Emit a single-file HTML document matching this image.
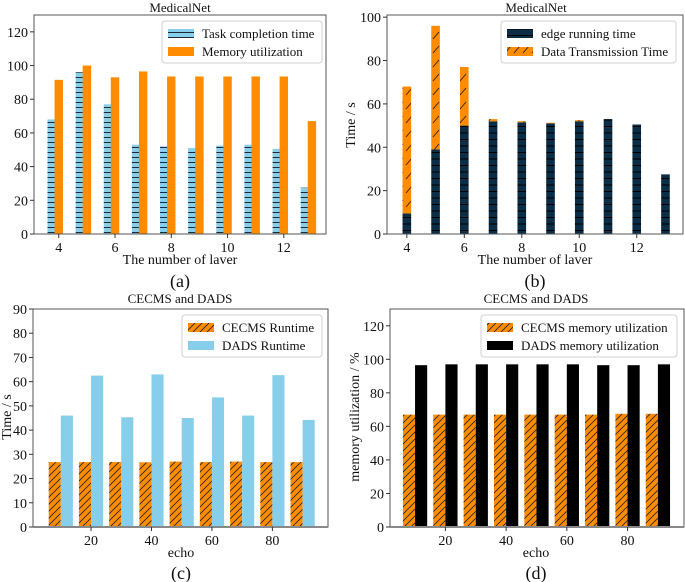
<!DOCTYPE html>
<html><head><meta charset="utf-8"><style>
body{margin:0;background:#fff}
svg{display:block;font-family:"Liberation Serif",serif}
</style></head><body>
<svg id="fig" width="685" height="582" viewBox="0 0 685 582" xmlns="http://www.w3.org/2000/svg">
<defs>
<pattern id="hBlue" patternUnits="userSpaceOnUse" width="8" height="5"><rect width="8" height="5" fill="#87ceeb"/><line x1="0" y1="2.5" x2="8" y2="2.5" stroke="#1a2a3a" stroke-width="1"/></pattern>
<pattern id="hDark" patternUnits="userSpaceOnUse" width="8" height="6.5"><rect width="8" height="6.5" fill="#0b2d45"/><line x1="0" y1="3" x2="8" y2="3" stroke="#000" stroke-width="1"/></pattern>
<pattern id="dOrSparse" patternUnits="userSpaceOnUse" width="9" height="14"><rect width="9" height="14" fill="#ff8c00"/><line x1="1" y1="11" x2="7" y2="4" stroke="#222" stroke-width="0.9"/></pattern>
<pattern id="dOr" patternUnits="userSpaceOnUse" width="7" height="7"><rect width="7" height="7" fill="#ff8c00"/><path d="M-1,8 L8,-1 M-1,1 L1,-1 M6,8 L8,6" stroke="#222" stroke-width="0.8"/></pattern>
</defs>
<g id="root"></g>
</svg>
<script>
// Panel (a)
const layersA = [4,5,6,7,8,9,10,11,12,13];
const taskTimeA = [68,96,77,53,52,51,52.5,53,50.5,27.5];
const memUtilA = [91.5,100,93,96.5,93.5,93.5,93.5,93.5,93.5,67];
const ticksAX = [4,6,8,10,12];
const ticksAY = [0,20,40,60,80,100,120];
// Panel (b)
const layersB = [4,5,6,7,8,9,10,11,12,13];
const edgeTimeB = [9.5,39,50,52,51.5,51,52,53,50.5,27.5];
const transTimeB = [58.5,57,27,1,0.5,0.3,0.5,0,0,0];
const ticksBX = [4,6,8,10,12];
const ticksBY = [0,20,40,60,80,100];
// Panel (c)
const echoC = [10,20,30,40,50,60,70,80,90];
const cecmsRunC = [26.8,26.8,26.8,26.7,27,26.8,27,26.8,26.8];
const dadsRunC = [46,62.5,45.3,63,45,53.5,46,62.7,44.2];
const ticksCX = [20,40,60,80];
const ticksCY = [0,10,20,30,40,50,60,70,80,90];
// Panel (d)
const echoD = [10,20,30,40,50,60,70,80,90];
const cecmsMemD = [67,67,67,67,67,67,67,67.5,67.5];
const dadsMemD = [96.5,97,97,97,97,97,96.5,96.5,97];
const ticksDX = [20,40,60,80];
const ticksDY = [0,20,40,60,80,100,120];

const NS="http://www.w3.org/2000/svg";
const root=document.getElementById('root');
function mk(tag,attrs,parent){const e=document.createElementNS(NS,tag);for(const k in attrs)e.setAttribute(k,attrs[k]);(parent||root).appendChild(e);return e;}
function txt(s,x,y,size,anchor,parent,rot){const t=mk('text',{x:x,y:y,'font-size':size,'text-anchor':anchor||'middle',fill:'#111'},parent);if(rot)t.setAttribute('transform','rotate(-90 '+x+' '+y+')');t.textContent=s;return t;}

function panel(name,box,xlim,ylim){
  const g=mk('g',{});
  
  
  const sx=v=>box.l+(v-xlim[0])/(xlim[1]-xlim[0])*(box.r-box.l);
  const sy=v=>box.b-(v-ylim[0])/(ylim[1]-ylim[0])*(box.b-box.t);
  return {g,sx,sy,box};
}
function axes(p,xt,yt,name,thick){
  const {g,sx,sy,box}=p;
  const fr=mk('rect',{x:box.l,y:box.t,width:box.r-box.l,height:box.b-box.t,fill:'none',stroke:'#555','stroke-width':1},g);
  
  
  if(thick)mk('line',{x1:box.l,y1:box.b,x2:box.r,y2:box.b,stroke:'#888','stroke-width':2},g);
  xt.forEach(v=>{const x=sx(v);mk('line',{x1:x,y1:box.b,x2:x,y2:box.b+4,stroke:'#333'},g);
    const t=txt(String(v),x,box.b+18,14,'middle',g);
    
    });
  yt.forEach(v=>{const y=sy(v);mk('line',{x1:box.l-4,y1:y,x2:box.l,y2:y,stroke:'#333'},g);
    const t=txt(String(v),box.l-6,y+5,14,'end',g);
    
    });
}
function bar(p,x0,x1,v0,v1,fill,nm){
  const r=mk('rect',{x:p.sx(x0),y:p.sy(v1),width:p.sx(x1)-p.sx(x0),height:Math.max(0,p.sy(v0)-p.sy(v1)),fill:fill},p.g);
  
  
  return r;
}
function legend(g,x,y,w,items,name){
  const lg=mk('g',{},g);
  
  
  mk('rect',{x:x,y:y,width:w,height:42,rx:3,fill:'#fff',stroke:'#ccc','stroke-width':1,opacity:0.9},lg);
  items.forEach((it,i)=>{
    const yy=y+6+i*18;
    mk('rect',{x:x+6,y:yy+2,width:26,height:9,fill:it[1]},lg);
    const t=txt(it[0],x+40,yy+11,13,'start',lg);
    
    
  });
}

// ---- (a)
{
 const p=panel('panel-a',{l:34,r:326,t:15,b:234},[3.12,13.5],[0,130]);
 layersA.forEach((x,i)=>{
   bar(p,x-0.4,x-0.1,0,taskTimeA[i],'url(#hBlue)','bar-task-time');
   bar(p,x-0.15,x+0.15,0,memUtilA[i],'#ff8c00','bar-memory');
 });
 axes(p,ticksAX,ticksAY,'a');
 legend(p.g,162,21,160,[['Task completion time','url(#hBlue)'],['Memory utilization','#ff8c00']],'legend-a');
 let t=txt('MedicalNet',180,12,13,'middle',p.g);
 t=txt('The number of laver',180,264,14,'middle',p.g);
 t=txt('(a)',180,287,18,'middle',p.g);
}
// ---- (b)
{
 const p=panel('panel-b',{l:387,r:683,t:15,b:234},[3.31,13.61],[0,101]);
 layersB.forEach((x,i)=>{
   bar(p,x-0.15,x+0.15,0,edgeTimeB[i],'url(#hDark)','bar-edge-time');
   if(transTimeB[i]>0)bar(p,x-0.15,x+0.15,edgeTimeB[i],edgeTimeB[i]+transTimeB[i],'url(#dOrSparse)','bar-transmission-time');
 });
 axes(p,ticksBX,ticksBY,'b');
 legend(p.g,501,21,175,[['edge running time','url(#hDark)'],['Data Transmission Time','url(#dOrSparse)']],'legend-b');
 let t=txt('MedicalNet',536,12,13,'middle',p.g);
 t=txt('Time / s',355,125,14,'middle',p.g,true);
 t=txt('The number of laver',535,264,14,'middle',p.g);
 t=txt('(b)',535,287,18,'middle',p.g);
}
// ---- (c)
{
 const p=panel('panel-c',{l:33,r:328,t:309,b:527},[0.8,98.4],[0,90]);
 echoC.forEach((x,i)=>{
   bar(p,x-4,x,0,cecmsRunC[i],'url(#dOr)','bar-cecms-runtime');
   bar(p,x,x+4,0,dadsRunC[i],'#87ceeb','bar-dads-runtime');
 });
 axes(p,ticksCX,ticksCY,'c',true);
 legend(p.g,182,315,140,[['CECMS Runtime','url(#dOr)'],['DADS Runtime','#87ceeb']],'legend-c');
 let t=txt('CECMS and DADS',180,303,13,'middle',p.g);
 t=txt('Time / s',11,417,14,'middle',p.g,true);
 t=txt('echo',181,557,14,'middle',p.g);
 t=txt('(c)',181,579,18,'middle',p.g);
}
// ---- (d)
{
 const p=panel('panel-d',{l:390,r:684,t:309,b:527},[1.75,98.6],[0,130]);
 echoD.forEach((x,i)=>{
   bar(p,x-4,x,0,cecmsMemD[i],'url(#dOr)','bar-cecms-memory');
   bar(p,x,x+4,0,dadsMemD[i],'#000','bar-dads-memory');
 });
 axes(p,ticksDX,ticksDY,'d',true);
 legend(p.g,481,315,196,[['CECMS memory utilization','url(#dOr)'],['DADS memory utilization','#000']],'legend-d');
 let t=txt('CECMS and DADS',536,303,13,'middle',p.g);
 t=txt('memory utilization / %',359,417,14,'middle',p.g,true);
 t=txt('echo',536,557,14,'middle',p.g);
 t=txt('(d)',536,579,18,'middle',p.g);
}
</script>
</body></html>
